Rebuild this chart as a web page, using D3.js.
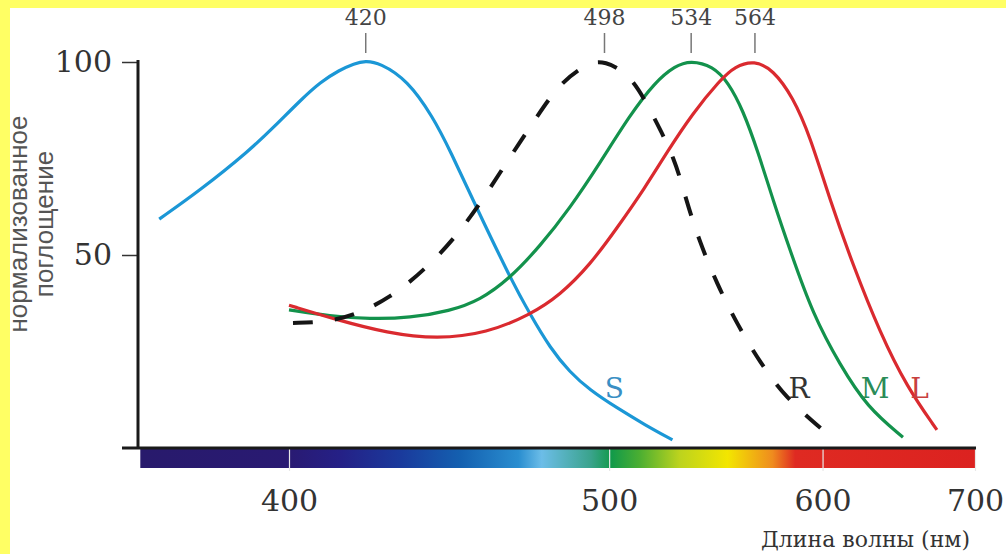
<!DOCTYPE html>
<html>
<head>
<meta charset="utf-8">
<script src="https://cdn.jsdelivr.net/npm/d3@7"></script>
<style>
  body { margin: 0; background: #fff; }
  svg { display: block; }
</style>
</head>
<body>
<div id="chart"></div>
<script>
// cone / rod absorption spectra, x axis is linear in 1/wavelength

var sWl  = [370, 379, 390.5, 396.5, 403, 408, 413, 417, 420, 424, 432, 439.5, 444.7, 453, 464, 471, 478, 485, 492.6, 503, 514.4, 526];
var sVal = [59.3, 66.8, 77.2, 83.4, 90.2, 94.8, 97.9, 99.6, 100.3, 99.8, 95.3, 85.8, 77.2, 62.4, 44.3, 34.5, 25.9, 19.7, 15, 10.4, 6, 2.1];

var rWl  = [401, 409, 417, 427, 437, 446.6, 455, 463, 473, 481.5, 492, 498, 509, 518, 527, 532, 538, 546, 555.5, 567, 580, 600];
var rVal = [32.4, 32.6, 34.3, 38.9, 46.1, 54.7, 64.2, 74.1, 85.5, 94.6, 99.8, 100.4, 96.6, 85.8, 75.1, 64.2, 53.4, 42.5, 32.1, 22, 13, 4.7];

var mWl  = [400, 410.5, 421.3, 432.7, 444.7, 454.2, 464.1, 474.4, 485.2, 496.4, 508.3, 518.6, 527.1, 534, 544.1, 551.2, 558.4, 565.8, 573.4, 582.2, 594.7, 610, 626.1, 648.9];
var mVal = [35.8, 34.2, 33.4, 33.7, 35.5, 38.3, 44, 52.3, 62.2, 73.8, 86.3, 94.8, 99, 100.4, 98.9, 94.8, 87.5, 76.7, 64.2, 51.3, 34.5, 21.5, 10.6, 2.8];

var lWl  = [400, 412.4, 426.1, 440.8, 456.5, 470.9, 481.5, 492.6, 503.1, 514.4, 523.7, 535, 547.4, 554.5, 564, 573.4, 583.8, 593, 604.2, 617.6, 634.2, 651.5, 672];
var lVal = [37, 33.2, 29.8, 28.2, 29.8, 34.5, 39.6, 47.4, 57, 67.4, 76.7, 86.8, 95.3, 98.9, 100.4, 98, 90.9, 80.8, 64.2, 47.4, 29.8, 15.8, 4.7];

var peakTicks = [420, 498, 534, 564];
var xTicks = [400, 500, 600, 700];
var yTicks = [50, 100];

var seriesNames = ['S', 'R', 'M', 'L'];
var labelWl  = [502, 587, 631, 660];
var labelVal = [13, 13, 13, 13];

// spectrum strip colours by wavelength
var specWl  = [366, 400, 413, 430, 448, 467, 475, 493, 501, 512, 529, 551, 573, 585, 700];
var specCol = ['#281a6c', '#291a72', '#252086', '#1a3a9c', '#1460b0', '#2a8ed0', '#6cbde8', '#3aa38c',
               '#129a4a', '#4aae32', '#bcd31e', '#f3e600', '#ef8c1e', '#df2a22', '#dc2220'];

var w = 1006, h = 554;

var x = d3.scalePow().exponent(-1)
    .domain([400, 700])
    .range([289, 975]);

var y = d3.scaleLinear()
    .domain([0, 100])
    .range([448, 62]);

var svg = d3.select('#chart')
    .append('svg')
    .attr('width', w)
    .attr('height', h);

svg.append('rect').attr('width', w).attr('height', h).attr('fill', '#fff');

// gradient strip
var grad = svg.append('defs').append('linearGradient')
    .attr('id', 'spec')
    .attr('gradientUnits', 'userSpaceOnUse')
    .attr('x1', x(366)).attr('x2', x(700))
    .attr('y1', 0).attr('y2', 0);

specWl.forEach(function(d, i) {
  grad.append('stop')
    .attr('offset', (x(d) - x(366)) / (x(700) - x(366)))
    .attr('stop-color', specCol[i]);
});

svg.append('rect')
    .attr('x', x(366))
    .attr('y', 449)
    .attr('width', x(700) - x(366))
    .attr('height', 19)
    .attr('fill', 'url(#spec)');

// bottom axis: ticks as thin light lines across the strip
var xAxis = svg.append('g')
    .attr('transform', 'translate(0,448)')
    .call(d3.axisBottom(x).tickValues(xTicks).tickSizeInner(23).tickSizeOuter(0).tickPadding(19).tickFormat(d3.format('d')));
xAxis.select('.domain').remove();
xAxis.selectAll('.tick line').attr('stroke', '#e8e8e8').attr('stroke-width', 1.2);
xAxis.selectAll('.tick text')
    .attr('font-family', 'DejaVu Serif')
    .attr('font-size', 30)
    .attr('fill', '#333');

svg.append('line')
    .attr('x1', 122).attr('x2', x(700) + 1)
    .attr('y1', 448).attr('y2', 448)
    .attr('stroke', '#1a1a1a')
    .attr('stroke-width', 3);

// y axis
var yAxis = svg.append('g')
    .attr('transform', 'translate(138,0)')
    .call(d3.axisLeft(y).tickValues(yTicks).tickSizeInner(16).tickSizeOuter(0).tickPadding(10));
yAxis.select('.domain').remove();
yAxis.selectAll('.tick line').attr('stroke', '#333').attr('stroke-width', 1.5);
yAxis.selectAll('.tick text')
    .attr('font-family', 'DejaVu Serif')
    .attr('font-size', 30)
    .attr('fill', '#333');

svg.append('line')
    .attr('x1', 138).attr('x2', 138)
    .attr('y1', 60).attr('y2', 449)
    .attr('stroke', '#1a1a1a')
    .attr('stroke-width', 3);

// peak marks on top
var peakAxis = svg.append('g')
    .attr('transform', 'translate(0,53)')
    .call(d3.axisTop(x).tickValues(peakTicks).tickSizeInner(20).tickSizeOuter(0).tickPadding(8).tickFormat(d3.format('d')));
peakAxis.select('.domain').remove();
peakAxis.selectAll('.tick line').attr('stroke', '#777').attr('stroke-width', 1.5);
peakAxis.selectAll('.tick text')
    .attr('font-family', 'DejaVu Serif')
    .attr('font-size', 22)
    .attr('fill', '#444');

// curves
var line = d3.line()
    .x(d => x(d[0]))
    .y(d => y(d[1]))
    .curve(d3.curveBasis);

var zip = (a, b) => a.map((d, i) => [d, b[i]]);

svg.append('path')
    .attr('d', line(zip(sWl, sVal)))
    .attr('fill', 'none')
    .attr('stroke', '#1b97d6')
    .attr('stroke-width', 3.2);

svg.append('path')
    .attr('d', line(zip(mWl, mVal)))
    .attr('fill', 'none')
    .attr('stroke', '#13924c')
    .attr('stroke-width', 3.2);

svg.append('path')
    .attr('d', line(zip(lWl, lVal)))
    .attr('fill', 'none')
    .attr('stroke', '#da2a2f')
    .attr('stroke-width', 3.2);

svg.append('path')
    .attr('d', line(zip(rWl, rVal)))
    .attr('fill', 'none')
    .attr('stroke', '#151515')
    .attr('stroke-width', 4)
    .attr('stroke-dasharray', '20,22');

// series letters
var labelCol = ['#3a8fc4', '#333', '#2a8c58', '#c8403e'];
svg.selectAll('text.lab')
    .data(seriesNames)
    .enter()
    .append('text')
    .attr('class', 'lab')
    .attr('x', (d, i) => x(labelWl[i]))
    .attr('y', (d, i) => y(labelVal[i]))
    .attr('text-anchor', 'middle')
    .attr('font-family', 'DejaVu Serif')
    .attr('font-size', 28)
    .attr('fill', (d, i) => labelCol[i])
    .text(d => d);

// axis titles
svg.append('text')
    .attr('x', 970)
    .attr('y', 547)
    .attr('text-anchor', 'end')
    .attr('font-family', 'DejaVu Serif')
    .attr('font-size', 22)
    .attr('fill', '#333')
    .text('Длина волны (нм)');

var yTitle = svg.append('text')
    .attr('transform', 'translate(27,224) rotate(-90)')
    .attr('text-anchor', 'middle')
    .attr('font-family', 'Liberation Sans, Arial, sans-serif')
    .attr('font-size', 26)
    .attr('fill', '#555');
yTitle.append('tspan').attr('x', 0).attr('dy', 0).text('нормализованное');
yTitle.append('tspan').attr('x', 0).attr('dy', 26).text('поглощение');

// yellow frame of the scan
svg.append('rect').attr('x', 0).attr('y', 0).attr('width', w).attr('height', 8).attr('fill', '#ffff64');
svg.append('rect').attr('x', 0).attr('y', 0).attr('width', 10).attr('height', h).attr('fill', '#ffff64');
</script>
</body>
</html>
